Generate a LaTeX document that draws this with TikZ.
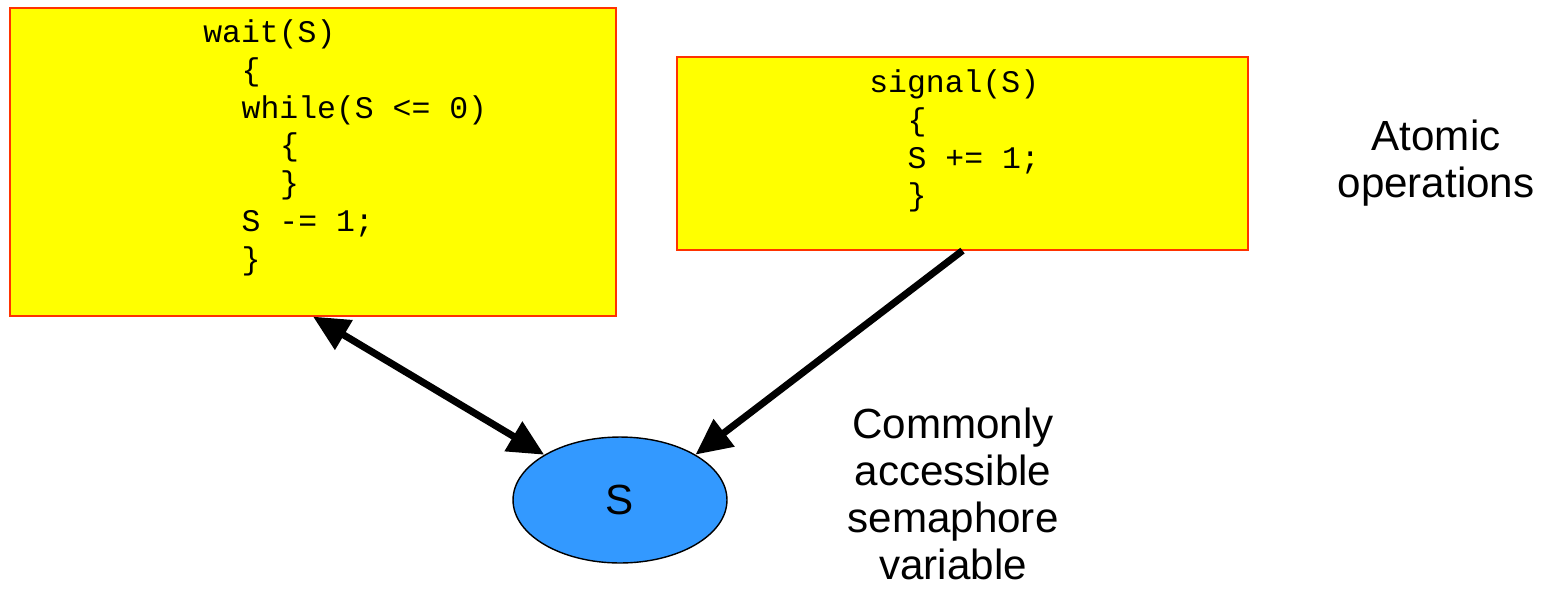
\documentclass[tikz,border=0pt]{standalone}
\usepackage{fontspec}
\setmainfont{Liberation Sans}
\setmonofont{Liberation Mono}
\usetikzlibrary{arrows.meta,shapes.geometric,positioning}

\definecolor{boxfill}{RGB}{255,255,0}
\definecolor{boxline}{RGB}{255,51,0}
\definecolor{semfill}{RGB}{51,153,255}

% one level of indentation in the code
\newcommand{\codeind}{\hspace*{1.22em}}

\tikzset{
  codebox/.style={rectangle, draw=boxline, fill=boxfill, line width=0.7pt, inner sep=0pt},
  codetext/.style={font=\ttfamily\fontsize{17.9}{21.6}\selectfont, align=left, inner sep=0pt, anchor=north west},
  note/.style={font=\fontsize{24}{26.7}\selectfont, align=center, inner sep=0pt},
  access/.style={line width=4pt, >={Triangle[length=0.72cm,width=0.66cm]}},
}

\begin{document}
\begin{tikzpicture}[x=0.02cm, y=-0.02cm]
  \useasboundingbox (0,0) rectangle (1547,592);

  % the two operations
  \node[codebox, minimum width=12.12cm, minimum height=6.16cm] (waitbox) at (313,162) {};
  \node[codebox, minimum width=11.42cm, minimum height=3.86cm] (signalbox) at (962.5,153.5) {};

  \node[codetext] (waitcode) at (203,19) {wait(S)\\
    \codeind\{\\
    \codeind while(S <= 0)\\
    \codeind\codeind\{\\
    \codeind\codeind\}\\
    \codeind S -= 1;\\
    \codeind\}};
  \node[codetext] (signalcode) at (869,69) {signal(S)\\
    \codeind\{\\
    \codeind S += 1;\\
    \codeind\}};

  % the shared variable
  \node[ellipse, draw, fill=semfill, line width=0.8pt, minimum width=4.28cm,
        minimum height=2.52cm, font=\fontsize{24}{26}\selectfont] (svar) at (620,500) {S};

  \draw[access, <->] (waitbox.south) -- (svar);
  \draw[access, ->] (signalbox.south) -- (svar.31);

  \node[note] (atomic) at (1436,163) {Atomic\\operations};
  \node[note] (shared) at (953,494) {Commonly\\accessible\\semaphore\\variable};
\end{tikzpicture}
\end{document}
